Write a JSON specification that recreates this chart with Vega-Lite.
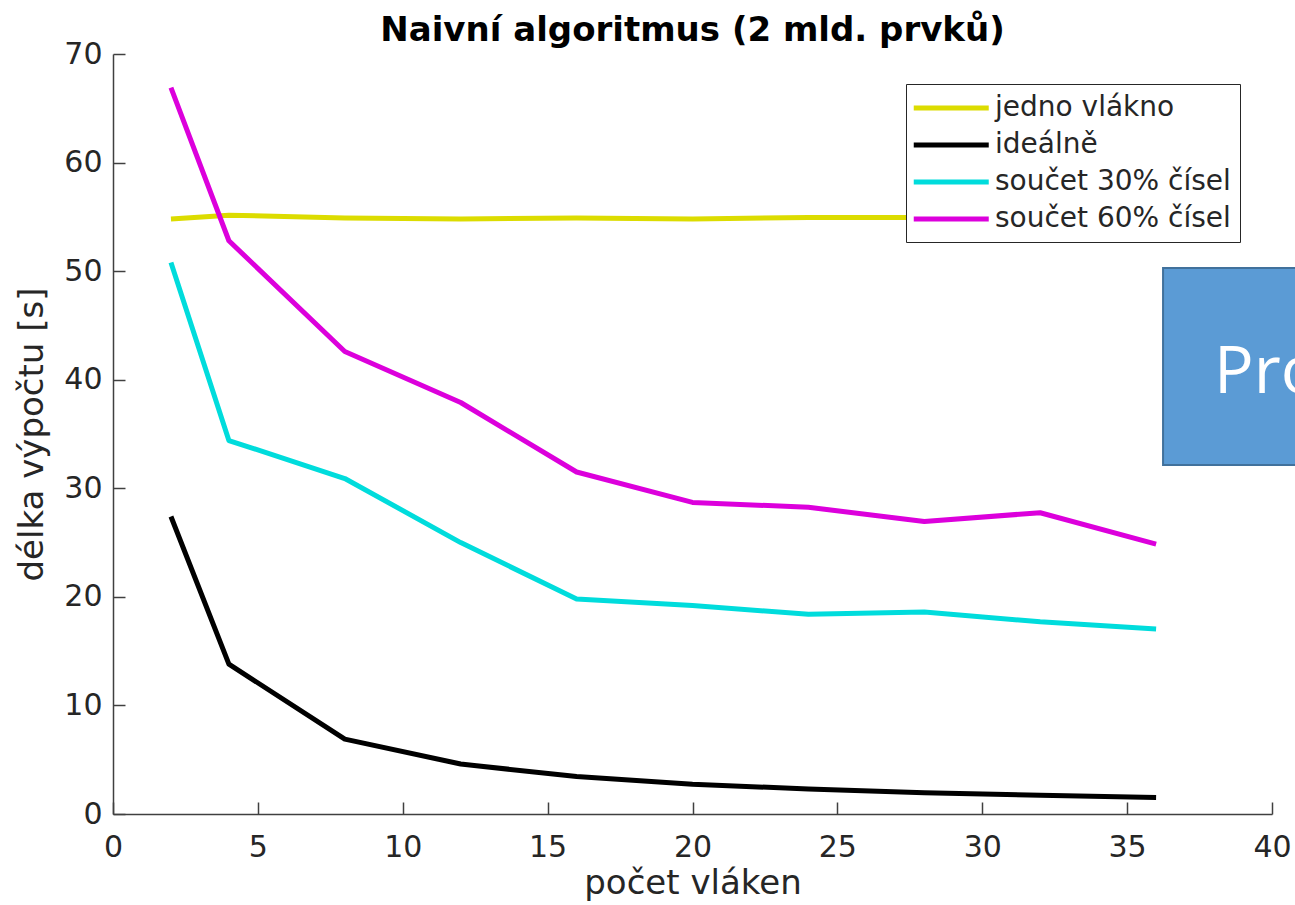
{
  "$schema": "https://vega.github.io/schema/vega-lite/v6.json",
  "autosize": {"type": "none"},
  "padding": {"left": 113, "top": 54, "right": 23, "bottom": 91},
  "width": 1159,
  "height": 760,
  "background": "white",
  "title": {
    "text": "Naivní algoritmus (2 mld. prvků)",
    "font": "DejaVu Sans",
    "fontSize": 34,
    "fontWeight": "bold",
    "color": "#000000",
    "anchor": "middle",
    "offset": -9
  },
  "config": {
    "view": {"stroke": null},
    "font": "DejaVu Sans",
    "axis": {
      "grid": false,
      "domainColor": "#404040",
      "domainWidth": 1.5,
      "tickColor": "#404040",
      "tickWidth": 1.5,
      "tickSize": -12,
      "labelColor": "#262626",
      "titleColor": "#262626",
      "labelFont": "DejaVu Sans",
      "titleFont": "DejaVu Sans",
      "labelFontSize": 30,
      "titleFontSize": 34,
      "titleFontWeight": "normal"
    },
    "legend": {
      "orient": "none",
      "legendX": 793,
      "legendY": 30,
      "strokeColor": "#262626",
      "fillColor": "white",
      "padding": 9,
      "labelFont": "DejaVu Sans",
      "labelFontSize": 28,
      "labelColor": "#262626",
      "labelLimit": 0,
      "symbolType": "M-1.3,0H4.7",
      "symbolStrokeWidth": 5,
      "symbolSize": 625,
      "rowPadding": 8,
      "labelOffset": 50
    }
  },
  "datasets": {
    "lines": [
      {"n": 2, "s": "jedno vlákno", "t": 54.8},
      {"n": 4, "s": "jedno vlákno", "t": 55.15},
      {"n": 8, "s": "jedno vlákno", "t": 54.9},
      {"n": 12, "s": "jedno vlákno", "t": 54.8},
      {"n": 16, "s": "jedno vlákno", "t": 54.9},
      {"n": 20, "s": "jedno vlákno", "t": 54.8},
      {"n": 24, "s": "jedno vlákno", "t": 54.95},
      {"n": 28, "s": "jedno vlákno", "t": 54.95},
      {"n": 32, "s": "jedno vlákno", "t": 54.9},
      {"n": 36, "s": "jedno vlákno", "t": 54.9},
      {"n": 2, "s": "ideálně", "t": 27.4},
      {"n": 4, "s": "ideálně", "t": 13.8},
      {"n": 8, "s": "ideálně", "t": 6.9},
      {"n": 12, "s": "ideálně", "t": 4.6},
      {"n": 16, "s": "ideálně", "t": 3.45},
      {"n": 20, "s": "ideálně", "t": 2.75},
      {"n": 24, "s": "ideálně", "t": 2.3},
      {"n": 28, "s": "ideálně", "t": 1.96},
      {"n": 32, "s": "ideálně", "t": 1.72},
      {"n": 36, "s": "ideálně", "t": 1.53},
      {"n": 2, "s": "součet 30% čísel", "t": 50.8},
      {"n": 4, "s": "součet 30% čísel", "t": 34.4},
      {"n": 8, "s": "součet 30% čísel", "t": 30.9},
      {"n": 12, "s": "součet 30% čísel", "t": 25.0},
      {"n": 16, "s": "součet 30% čísel", "t": 19.8},
      {"n": 20, "s": "součet 30% čísel", "t": 19.2},
      {"n": 24, "s": "součet 30% čísel", "t": 18.4},
      {"n": 28, "s": "součet 30% čísel", "t": 18.6},
      {"n": 32, "s": "součet 30% čísel", "t": 17.7},
      {"n": 36, "s": "součet 30% čísel", "t": 17.05},
      {"n": 2, "s": "součet 60% čísel", "t": 66.9},
      {"n": 4, "s": "součet 60% čísel", "t": 52.8},
      {"n": 8, "s": "součet 60% čísel", "t": 42.6},
      {"n": 12, "s": "součet 60% čísel", "t": 37.9},
      {"n": 16, "s": "součet 60% čísel", "t": 31.5},
      {"n": 20, "s": "součet 60% čísel", "t": 28.7},
      {"n": 24, "s": "součet 60% čísel", "t": 28.25},
      {"n": 28, "s": "součet 60% čísel", "t": 26.95},
      {"n": 32, "s": "součet 60% čísel", "t": 27.75},
      {"n": 36, "s": "součet 60% čísel", "t": 24.85}
    ],
    "box": [
      {"x1": 36.24, "x2": 42, "y1": 32.14, "y2": 50.29, "tx": 38.0, "ty": 38.8, "label": "Pro"}
    ]
  },
  "layer": [
    {
      "data": {"name": "lines"},
      "mark": {"type": "line", "strokeWidth": 5, "strokeCap": "butt", "strokeJoin": "round"},
      "encoding": {
        "x": {
          "field": "n", "type": "quantitative",
          "scale": {"domain": [0, 40], "nice": false, "zero": false},
          "axis": {"values": [0, 5, 10, 15, 20, 25, 30, 35, 40], "title": "počet vláken", "labelPadding": 30, "titlePadding": 4, "labelFlush": false}
        },
        "y": {
          "field": "t", "type": "quantitative",
          "scale": {"domain": [0, 70], "nice": false},
          "axis": {"values": [0, 10, 20, 30, 40, 50, 60, 70], "title": "délka výpočtu [s]", "labelPadding": 23, "titlePadding": 14, "labelFlush": false}
        },
        "color": {
          "field": "s", "type": "nominal",
          "scale": {
            "domain": ["jedno vlákno", "ideálně", "součet 30% čísel", "součet 60% čísel"],
            "range": ["#dcdc00", "#000000", "#00dcdc", "#dc00dc"]
          },
          "legend": {"title": null}
        }
      }
    },
    {
      "data": {"name": "box"},
      "mark": {"type": "rect", "fill": "#5b9bd5", "stroke": "#41719c", "strokeWidth": 2, "clip": false},
      "encoding": {
        "x": {"field": "x1", "type": "quantitative"},
        "x2": {"field": "x2"},
        "y": {"field": "y1", "type": "quantitative"},
        "y2": {"field": "y2"}
      }
    },
    {
      "data": {"name": "box"},
      "mark": {"type": "text", "color": "white", "font": "Open Sans", "fontSize": 66, "align": "left", "baseline": "alphabetic", "clip": false},
      "encoding": {
        "x": {"field": "tx", "type": "quantitative"},
        "y": {"field": "ty", "type": "quantitative"},
        "text": {"field": "label"}
      }
    }
  ]
}
